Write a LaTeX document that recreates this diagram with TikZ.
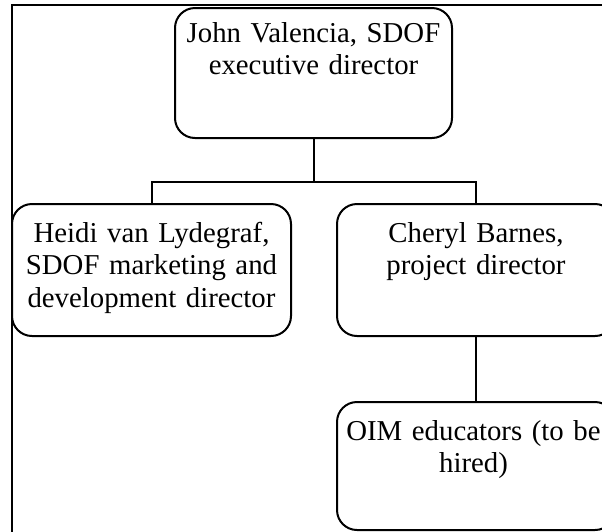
\documentclass[tikz,border=0pt]{standalone}
\usepackage{fontspec}
\setmainfont{Liberation Serif}
\begin{document}
\begin{tikzpicture}[x=1pt,y=-1pt,
  box/.style={draw, line width=2pt, rounded corners=20pt, inner sep=0pt, minimum height=130pt},
  txt/.style={anchor=north, inner sep=0pt, align=center, text width=#1,
    font=\fontsize{28.8pt}{32.5pt}\selectfont},
  link/.style={line width=2pt}]
\useasboundingbox (0,0) rectangle (602,531);
\clip (0,0) rectangle (602,531);
\draw[line width=2pt] (12,545) -- (12,5) -- (620,5);
% boxes
\node[box, minimum width=277pt, minimum height=130pt, anchor=north] (top) at (313.5,7) {};
\node[box, minimum width=279pt, minimum height=132pt, anchor=north] (heidi) at (151.5,203) {};
\node[box, minimum width=278pt, minimum height=132pt, anchor=north] (cheryl) at (476,203) {};
\node[box, minimum width=278pt, minimum height=128pt, anchor=north] (oim) at (476,401) {};
% texts
\node[txt=272pt] (toptxt) at ([yshift=-15pt]top.north) {John Valencia, SDOF\\executive director};
\node[txt=272pt] (heiditxt) at ([yshift=-19pt]heidi.north) {Heidi van Lydegraf,\\SDOF marketing and\\development director};
\node[txt=272pt] (cheryltxt) at ([yshift=-19pt]cheryl.north) {Cheryl Barnes,\\project director};
\node[txt=272pt] (oimtxt) at ([xshift=-2.5pt,yshift=-19pt]oim.north) {OIM educators (to be\\hired)};
% connectors
\coordinate (bus) at (313.5,182);
\draw[link] (top.south) -- (bus);
\draw[link] (heidi.north) |- (bus) -| (cheryl.north);
\draw[link] (cheryl.south) -- (oim.north);
\end{tikzpicture}
\end{document}
